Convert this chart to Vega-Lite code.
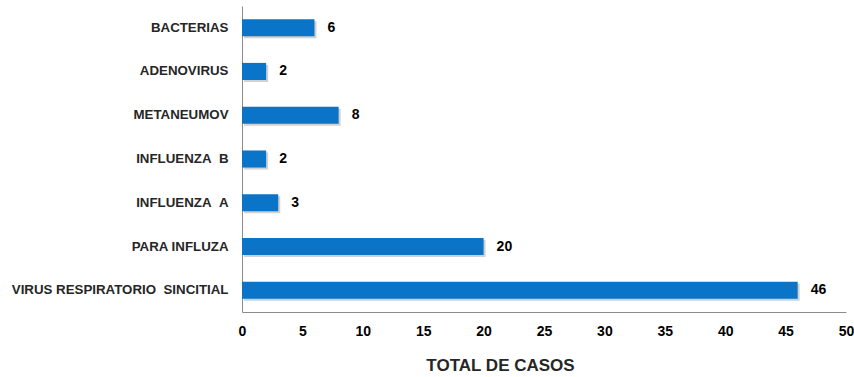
{
  "$schema": "https://vega.github.io/schema/vega-lite/v6.json",
  "width": 604,
  "height": 306,
  "autosize": {"type": "none"},
  "padding": {"left": 242, "top": 6, "right": 8, "bottom": 65},
  "background": "white",
  "config": {"view": {"stroke": null}, "font": "Liberation Sans"},
  "data": {
    "values": [
      {"categoria": "BACTERIAS", "casos": 6},
      {"categoria": "ADENOVIRUS", "casos": 2},
      {"categoria": "METANEUMOV", "casos": 8},
      {"categoria": "INFLUENZA\u00a0\u00a0B", "casos": 2},
      {"categoria": "INFLUENZA\u00a0\u00a0A", "casos": 3},
      {"categoria": "PARA INFLUZA", "casos": 20},
      {"categoria": "VIRUS RESPIRATORIO\u00a0 SINCITIAL", "casos": 46}
    ]
  },
  "encoding": {
    "y": {
      "field": "categoria",
      "type": "nominal",
      "sort": null,
      "scale": {"paddingInner": 0.61, "paddingOuter": 0.3},
      "axis": {
        "title": null,
        "ticks": false,
        "domainColor": "#8c8c8c",
        "labelFont": "Liberation Sans",
        "labelFontWeight": "bold",
        "labelFontSize": 13.3,
        "labelColor": "#262626",
        "labelPadding": 14,
        "labelLimit": 300
      }
    },
    "x": {
      "field": "casos",
      "type": "quantitative",
      "scale": {"domain": [0, 50], "nice": false},
      "axis": {
        "title": "TOTAL DE CASOS",
        "titleFont": "Liberation Sans",
        "titleFontSize": 17,
        "titleFontWeight": "bold",
        "titleColor": "#262626",
        "titlePadding": 19,
        "titleX": 258,
        "titleAnchor": "middle",
        "values": [0, 5, 10, 15, 20, 25, 30, 35, 40, 45, 50],
        "grid": false,
        "ticks": false,
        "domainColor": "#8c8c8c",
        "labelFont": "Liberation Sans",
        "labelFontWeight": "bold",
        "labelFontSize": 14,
        "labelColor": "#000000",
        "labelPadding": 12,
        "labelFlush": false
      }
    }
  },
  "layer": [
    {
      "mark": {"type": "bar", "color": "#9a9a9a", "opacity": 0.45, "xOffset": 2, "yOffset": 2}
    },
    {
      "mark": {"type": "bar", "color": "#0A75C8"}
    },
    {
      "mark": {"type": "text", "align": "left", "dx": 13, "fontSize": 14, "fontWeight": "bold", "color": "#000000", "font": "Liberation Sans"},
      "encoding": {"text": {"field": "casos", "type": "quantitative"}}
    }
  ]
}
